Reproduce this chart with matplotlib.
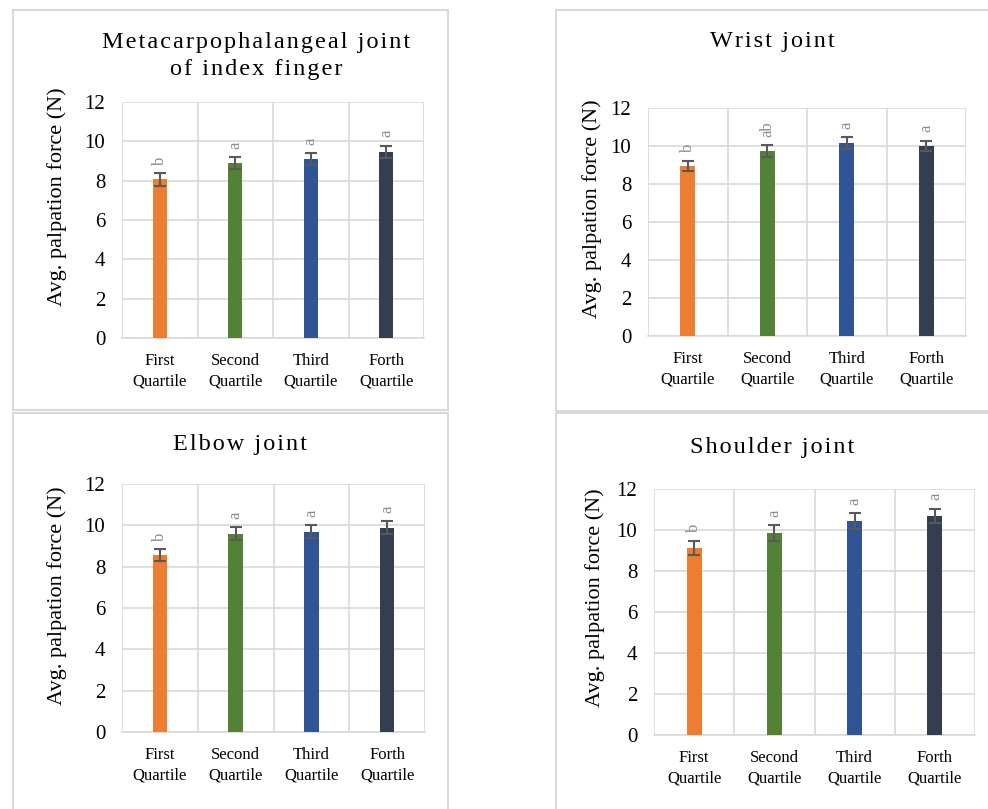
import matplotlib.pyplot as plt
from matplotlib.patches import Rectangle
import numpy as np

plt.rcParams['font.family'] = ['Liberation Serif', 'DejaVu Serif']

categories = ['First\nQuartile', 'Second\nQuartile', 'Third\nQuartile', 'Forth\nQuartile']
colors = ['#ED7D31', '#548235', '#2F5597', '#333F50']

titles = ['Metacarpophalangeal joint\nof index finger', 'Wrist joint', 'Elbow joint', 'Shoulder joint']

mcp_vals = [8.07, 8.9, 9.1, 9.46]
mcp_err = [0.32, 0.3, 0.3, 0.32]
mcp_letters = ['b', 'a', 'a', 'a']

wrist_vals = [8.95, 9.74, 10.16, 10.0]
wrist_err = [0.28, 0.3, 0.3, 0.28]
wrist_letters = ['b', 'ab', 'a', 'a']

elbow_vals = [8.56, 9.6, 9.7, 9.88]
elbow_err = [0.3, 0.31, 0.3, 0.31]
elbow_letters = ['b', 'a', 'a', 'a']

shoulder_vals = [9.12, 9.85, 10.44, 10.68]
shoulder_err = [0.36, 0.38, 0.39, 0.36]
shoulder_letters = ['b', 'a', 'a', 'a']

W, H = 988, 809
fig = plt.figure(figsize=(W / 100, H / 100), dpi=100)


def px_rect(x0, y0, x1, y1):
    # pixel box -> figure fraction [left, bottom, width, height]
    return [x0 / W, 1 - y1 / H, (x1 - x0) / W, (y1 - y0) / H]


def spaced(s):
    # fake letter spacing like the Excel titles
    return '\n'.join('\u200a'.join(line) for line in s.split('\n'))


# panel frames
frames = [(13, 10, 448, 410), (556, 10, 996, 411), (13, 413, 448, 816), (556, 413, 996, 816)]
for x0, y0, x1, y1 in frames:
    fig.patches.append(Rectangle((x0 / W, 1 - y1 / H), (x1 - x0) / W, (y1 - y0) / H,
                                 transform=fig.transFigure, fill=False,
                                 edgecolor='#D9D9D9', lw=1.5, clip_on=False))

axes_px = [(122, 102, 424, 338), (648, 108, 966, 336), (122, 484, 425, 732), (654, 489, 975, 735)]
title_pos = [(256, 56), (772, 42), (240, 445), (772, 447)]
ylab_pos = [(-0.182, 0.6), (-0.146, 0.56), (-0.183, 0.55), (-0.154, 0.56)]
panels = [(mcp_vals, mcp_err, mcp_letters), (wrist_vals, wrist_err, wrist_letters),
          (elbow_vals, elbow_err, elbow_letters), (shoulder_vals, shoulder_err, shoulder_letters)]

for i, (vals, errs, letters) in enumerate(panels):
    ax = fig.add_axes(px_rect(*axes_px[i]))
    x = np.arange(len(categories))
    ax.bar(x, vals, width=0.19, color=colors, zorder=3)
    ax.errorbar(x, vals, yerr=errs, fmt='none', ecolor='#595959', elinewidth=1.5,
                capsize=4.5, capthick=1.5, zorder=4)
    for xi, v, e, lab in zip(x, vals, errs, letters):
        ax.annotate(lab, (xi, v + e), xytext=(0, 6), textcoords='offset points',
                    rotation=90, ha='center', va='bottom', fontsize=12, color='#8C8C8C')
    ax.set_xlim(-0.5, 3.5)
    ax.set_ylim(0, 12)
    ax.set_yticks(range(0, 13, 2))
    ax.set_xticks(x)
    ax.set_xticklabels(categories, fontsize=12, linespacing=1.35)
    ax.tick_params(axis='x', length=0, pad=11)
    ax.tick_params(axis='y', length=0, pad=12, labelsize=15)
    ax.grid(axis='y', color='#D9D9D9', lw=1.2, zorder=0)
    for b in np.arange(-0.5, 4, 1):
        ax.axvline(b, color='#D9D9D9', lw=1.2, zorder=0)
    for s in ['top', 'right', 'left']:
        ax.spines[s].set_visible(False)
    ax.spines['bottom'].set_color('#D9D9D9')
    ax.spines['bottom'].set_linewidth(1.2)
    ax.set_ylabel('Avg. palpation force (N)', fontsize=16)
    ax.yaxis.set_label_coords(*ylab_pos[i])
    tx, ty = title_pos[i]
    fig.text(tx / W, 1 - ty / H, spaced(titles[i]), ha='center', va='center',
             fontsize=17.5, linespacing=1.4)

fig.savefig('out.png', dpi=100)
